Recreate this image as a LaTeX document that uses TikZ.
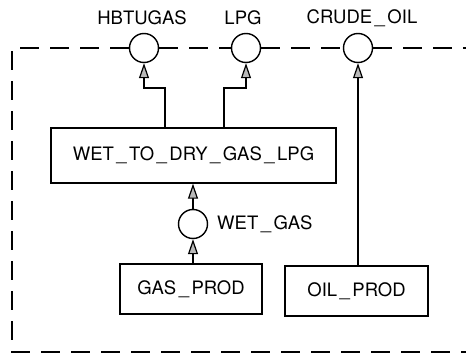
\documentclass[tikz,border=0pt]{standalone}
\usepackage{fontspec}
\setmainfont{TeX Gyre Heros}
\usetikzlibrary{arrows.meta}
\newcommand\usc{\kern2.5pt\_\kern2.5pt}
\tikzset{
  x=1pt,y=-1pt,
  every node/.style={font=\fontsize{18.5}{20}\selectfont},
  port/.style={draw,circle,minimum size=29pt,inner sep=0pt,line width=1.4pt},
  proc/.style={draw,rectangle,inner sep=0pt,line width=1.4pt},
  lbl/.style={inner sep=0pt},
  arr/.style={line width=1.4pt,-{Triangle[length=15pt,width=10pt,line width=1.2pt,fill=gray!55]}},
  frame/.style={line width=1.4pt,dash pattern=on 19pt off 11pt},
}
\begin{document}
\begin{tikzpicture}
\useasboundingbox (0,0) rectangle (466,356);
% ports on the boundary
\node[port] (hb) at (144,48) {};
\node[port] (lpg) at (246,48) {};
\node[port] (crude) at (358,48) {};
\node[lbl] (hbl) at (142,18) {HBTUGAS};
\node[lbl] (lpgl) at (243,18) {LPG};
\node[lbl] (crudel) at (362,18) {CRUDE\usc OIL};
% processes
\node[proc,minimum width=285pt,minimum height=55pt] (wtd) at (193.5,155.5) {WET\usc TO\usc DRY\usc GAS\usc LPG};
\node[proc,minimum width=142pt,minimum height=50pt] (gas) at (191,289) {GAS\usc PROD};
\node[proc,minimum width=143pt,minimum height=50pt] (oil) at (356.5,291) {OIL\usc PROD};
\node[port] (wet) at (193,224) {};
\node[lbl,anchor=west] (wetl) at (217,224) {WET\usc GAS};
% connectors
\coordinate (c1) at (165,88);
\coordinate (c2) at (224,88);
\draw[arr] (c1 |- wtd.north) -- (c1) -| (hb.south);
\draw[arr] (c2 |- wtd.north) -- (c2) -| (lpg.south);
\draw[arr] (crude.south |- oil.north) -- (crude.south);
\draw[arr] (wet.north) -- (wet.north |- wtd.south);
\draw[arr] (wet.south |- gas.north) -- (wet.south);
% dashed boundary
\coordinate (tl) at (12,48);
\coordinate (bl) at (12,352);
\coordinate (br) at (466,352);
\coordinate (tr) at (466,48);
\draw[frame] (hb.west) -- (tl) -- (bl) -- (br);
\draw[frame] (hb.east) -- (lpg.west);
\draw[frame] (lpg.east) -- (crude.west);
\draw[frame] (crude.east) -- (tr);
\end{tikzpicture}
\end{document}
